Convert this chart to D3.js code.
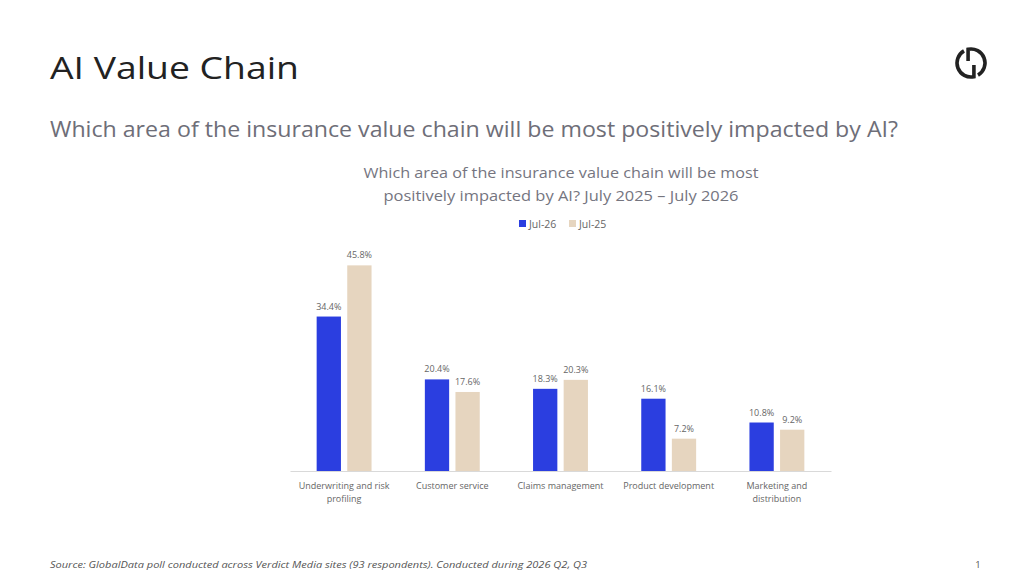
<!DOCTYPE html>
<html>
<head>
<meta charset="utf-8">
<script src="https://cdn.jsdelivr.net/npm/d3@7/dist/d3.min.js"></script>
<style>
  html, body { margin: 0; padding: 0; background: #ffffff; }
  svg { display: block; font-family: "Open Sans", "Noto Sans", sans-serif; }
</style>
</head>
<body>
<svg id="chart" width="1024" height="577"></svg>
<script>
const categories = [
  "Underwriting and risk profiling",
  "Customer service",
  "Claims management",
  "Product development",
  "Marketing and distribution"
];
const categoryLines = [
  ["Underwriting and risk", "profiling"],
  ["Customer service"],
  ["Claims management"],
  ["Product development"],
  ["Marketing and", "distribution"]
];
const seriesNames = ["Jul-26", "Jul-25"];
const jul26 = [34.4, 20.4, 18.3, 16.1, 10.8];
const jul25 = [45.8, 17.6, 20.3, 7.2, 9.2];
const seriesColors = ["#2b3ee0", "#e6d5bf"];

const pageTitle = "AI Value Chain";
const pageSubtitle = "Which area of the insurance value chain will be most positively impacted by AI?";
const chartTitle = ["Which area of the insurance value chain will be most", "positively impacted by AI? July 2025 \u2013 July 2026"];
const sourceText = "Source: GlobalData poll conducted across Verdict Media sites (93 respondents). Conducted during 2026 Q2, Q3";

const svg = d3.select("#chart");

// Header
svg.append("text").attr("x", 50).attr("y", 79)
  .attr("font-size", 31).attr("fill", "#222222")
  .attr("textLength", 249).attr("lengthAdjust", "spacingAndGlyphs")
  .text(pageTitle);
svg.append("text").attr("x", 50).attr("y", 137)
  .attr("font-size", 21).attr("fill", "#6e6e78")
  .attr("textLength", 848).attr("lengthAdjust", "spacingAndGlyphs")
  .text(pageSubtitle);

// Logo: two rotationally symmetric hooks forming a broken ring
const logo = svg.append("g").attr("transform", "translate(971,63)");
const r = 14;
const deg = Math.PI / 180;
const pt = (ang) => [r * Math.sin(ang * deg), -r * Math.cos(ang * deg)];
function hook(startAng, endAng, stemEndY) {
  const s = pt(startAng), e = pt(endAng);
  return `M${s[0]},${stemEndY} L${s[0]},${s[1]} A${r},${r} 0 0 1 ${e[0]},${e[1]}`;
}
logo.append("path").attr("d", hook(-12, 150, -2))
  .attr("fill", "none").attr("stroke", "#222").attr("stroke-width", 3.6);
logo.append("path").attr("d", hook(168, 330, 2))
  .attr("fill", "none").attr("stroke", "#222").attr("stroke-width", 3.6);

// Chart title
svg.append("text").attr("x", 561).attr("y", 178).attr("text-anchor", "middle")
  .attr("font-size", 15).attr("fill", "#75757f")
  .attr("textLength", 395).attr("lengthAdjust", "spacingAndGlyphs")
  .text(chartTitle[0]);
svg.append("text").attr("x", 561).attr("y", 201).attr("text-anchor", "middle")
  .attr("font-size", 15).attr("fill", "#75757f")
  .attr("textLength", 355).attr("lengthAdjust", "spacingAndGlyphs")
  .text(chartTitle[1]);

// Legend
const legendX = [519, 569];
seriesNames.forEach((s, i) => {
  const g = svg.append("g").attr("transform", `translate(${legendX[i]},220)`);
  g.append("rect").attr("width", 7).attr("height", 7).attr("fill", seriesColors[i]);
  g.append("text").attr("x", 10).attr("y", 7.5).attr("font-size", 10.5).attr("fill", "#666")
    .text(s);
});

// Scales
const x0 = d3.scaleBand().domain(categories).range([290, 831]);
const x1 = d3.scaleBand().domain(seriesNames).range([0, x0.bandwidth()])
  .paddingInner(0.206).paddingOuter(0.871);
const y = d3.scaleLinear().domain([0, 50]).range([471, 246.5]);

const rows = categories.map((c, i) => ({cat: c, values: [jul26[i], jul25[i]]}));

const groups = svg.append("g").selectAll("g").data(rows).join("g")
  .attr("transform", d => `translate(${x0(d.cat)},0)`);

groups.selectAll("rect").data(d => d.values.map((v, j) => ({s: seriesNames[j], v, j})))
  .join("rect")
  .attr("x", d => x1(d.s))
  .attr("y", d => y(d.v))
  .attr("width", x1.bandwidth())
  .attr("height", d => y(0) - y(d.v))
  .attr("fill", d => seriesColors[d.j]);

groups.selectAll("text.val").data(d => d.values.map((v, j) => ({s: seriesNames[j], v, j})))
  .join("text").attr("class", "val")
  .attr("x", d => x1(d.s) + x1.bandwidth() / 2)
  .attr("y", d => y(d.v) - 7)
  .attr("text-anchor", "middle")
  .attr("font-size", 9).attr("fill", "#666")
  .text(d => d.v.toFixed(1) + "%");

// Axis
const xAxis = d3.axisBottom(x0).tickSize(0).tickFormat("");
const axisG = svg.append("g").attr("transform", "translate(0,471)").call(xAxis);
axisG.select(".domain").attr("stroke", "#d9d9d9").attr("stroke-width", 1);

categories.forEach((c, i) => {
  const t = svg.append("text").attr("text-anchor", "middle")
    .attr("font-size", 9).attr("fill", "#666");
  categoryLines[i].forEach((line, k) => {
    t.append("tspan").attr("x", x0(c) + x0.bandwidth() / 2).attr("y", 489 + k * 13).text(line);
  });
});

// Footer
svg.append("text").attr("x", 50).attr("y", 568)
  .attr("font-size", 9.5).attr("font-style", "italic").attr("fill", "#555")
  .attr("textLength", 537).attr("lengthAdjust", "spacingAndGlyphs")
  .text(sourceText);
svg.append("text").attr("x", 978).attr("y", 568).attr("text-anchor", "middle")
  .attr("font-size", 9.5).attr("fill", "#555").text("1");
</script>
</body>
</html>
